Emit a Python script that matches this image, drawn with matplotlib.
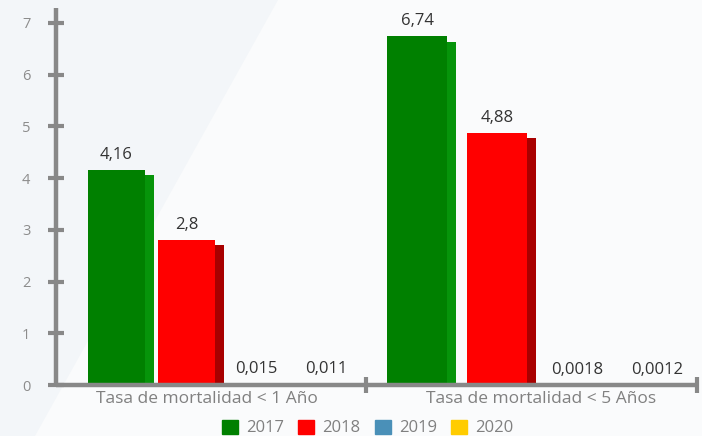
import matplotlib
matplotlib.use("Agg")
import matplotlib.pyplot as plt
from matplotlib.patches import Polygon, Rectangle
import numpy as np

plt.rcParams['font.family'] = ['Open Sans', 'DejaVu Sans']

categories = ["Tasa de mortalidad < 1 Año", "Tasa de mortalidad < 5 Años"]
years = ["2017", "2018", "2019", "2020"]
values = {
    "2017": [4.16, 6.74],
    "2018": [2.8, 4.88],
    "2019": [0.015, 0.0018],
    "2020": [0.011, 0.0012],
}
labels = {
    "2017": ["4,16", "6,74"],
    "2018": ["2,8", "4,88"],
    "2019": ["0,015", "0,0018"],
    "2020": ["0,011", "0,0012"],
}
front_colors = ["#008000", "#ff0000", "#4a90b8", "#ffcc00"]
side_colors = ["#06940a", "#a80000", "#2f6f93", "#c9a000"]
yticks = [0, 1, 2, 3, 4, 5, 6, 7]

W, H = 702, 436
fig = plt.figure(figsize=(W / 100, H / 100), dpi=100)
fig.patch.set_facecolor("#fafbfc")
# diagonal background shading
fig.patches.append(Polygon([(0, 0), (35 / W, 0), (278 / W, 1), (0, 1)],
                           closed=True, transform=fig.transFigure,
                           facecolor="#f3f6f9", edgecolor="none", zorder=-10))

ax = fig.add_axes([56 / W, 1 - 385 / H, (697 - 56) / W, (385 - 8) / H])
ax.patch.set_alpha(0)

U = 315.5  # pixels per group unit
xlo, xhi = (56 - 221.5) / U, (697 - 221.5) / U
ax.set_xlim(xlo, xhi)
ax.set_ylim(0, 7.29)

x = np.arange(len(categories))
spacing = np.array([70, 80]) / U
widths = np.array([57, 60]) / U
side_w = 8.5 / U
depth = 0.1
label_shift = np.array([-14.5, 4.5]) / U

for j, yr in enumerate(years):
    vals = np.array(values[yr])
    pos = x + (j - 1.5) * spacing
    side_h = np.clip(vals - depth, 0, None)
    ax.bar(pos + widths / 2 + side_w / 2, side_h, width=side_w, color=side_colors[j],
           edgecolor="none", zorder=1.9)
    ax.bar(pos, vals, width=widths, color=front_colors[j], edgecolor="none", zorder=2,
           label=yr)
    for p, v, lab in zip(pos, vals, labels[yr]):
        ax.annotate(lab, (p, v), xytext=(0, 8), textcoords="offset points",
                    ha="center", va="baseline", fontsize=12, color="#333333")

# spines
for sp in ["top", "right"]:
    ax.spines[sp].set_visible(False)
for sp in ["left", "bottom"]:
    ax.spines[sp].set_color("#888888")
    ax.spines[sp].set_linewidth(3.2)
    ax.spines[sp].set_capstyle("butt")
    ax.spines[sp].set_zorder(3)

ax.set_yticks(yticks)
ax.set_yticklabels([str(t) for t in yticks])
ax.tick_params(axis="y", direction="inout", length=11, width=3, color="#888888",
               labelcolor="#8c8c8c", labelsize=10.5, pad=13)

sep = (366 - 221.5) / U
ax.set_xticks([sep, xhi])
ax.set_xticklabels(["", ""])
ax.tick_params(axis="x", direction="inout", length=12, width=3, color="#888888")
ax.set_xticks(x + label_shift, minor=True)
ax.set_xticklabels(categories, minor=True)
ax.tick_params(axis="x", which="minor", length=0, labelcolor="#808080",
               labelsize=12.5, pad=4)

handles = [Rectangle((0, 0), 1, 1, color=c) for c in front_colors]
leg = fig.legend(handles, years, loc="center", bbox_to_anchor=(0.524, 1 - 428 / H),
                 ncol=4, frameon=False, fontsize=12, handlelength=0.95,
                 handleheight=0.95, handletextpad=0.5, columnspacing=0.85,
                 labelcolor="#808080", borderpad=0.1)

fig.savefig("out.png", dpi=100, facecolor=fig.get_facecolor())
